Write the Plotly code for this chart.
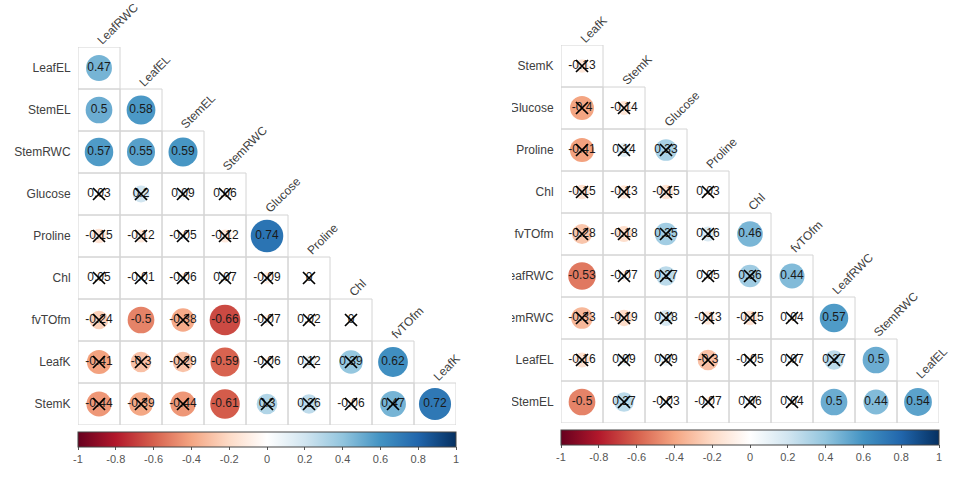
import numpy as np
import plotly.graph_objects as go

# left panel: lower triangle of correlations (row i has i+1 values)
left_vars = ["LeafRWC", "LeafEL", "StemEL", "StemRWC", "Glucose",
             "Proline", "Chl", "fvTOfm", "LeafK", "StemK"]
left_r = [
    [0.47],
    [0.5, 0.58],
    [0.57, 0.55, 0.59],
    [0.03, 0.2, 0.09, 0.06],
    [-0.15, -0.12, -0.05, -0.12, 0.74],
    [0.05, -0.01, -0.06, 0.07, -0.09, 0],
    [-0.24, -0.5, -0.38, -0.66, -0.07, 0.02, 0],
    [-0.41, -0.3, -0.29, -0.59, -0.06, 0.12, 0.39, 0.62],
    [-0.44, -0.39, -0.44, -0.61, 0.3, 0.26, -0.06, 0.47, 0.72],
]
# 1 = not significant (crossed out)
left_ns = [
    [0],
    [0, 0],
    [0, 0, 0],
    [1, 1, 1, 1],
    [1, 1, 1, 1, 0],
    [1, 1, 1, 1, 1, 1],
    [1, 0, 1, 0, 1, 1, 1],
    [1, 1, 1, 0, 1, 1, 1, 0],
    [1, 1, 1, 0, 1, 1, 1, 1, 0],
]

right_vars = ["LeafK", "StemK", "Glucose", "Proline", "Chl",
              "fvTOfm", "LeafRWC", "StemRWC", "LeafEL", "StemEL"]
right_r = [
    [-0.13],
    [-0.4, -0.14],
    [-0.41, 0.14, 0.33],
    [-0.15, -0.13, -0.15, 0.03],
    [-0.28, -0.18, 0.35, 0.16, 0.46],
    [-0.53, -0.07, 0.27, 0.05, 0.36, 0.44],
    [-0.33, -0.19, 0.18, -0.13, -0.15, 0.04, 0.57],
    [-0.16, 0.09, 0.09, -0.3, -0.05, 0.07, 0.27, 0.5],
    [-0.5, 0.27, -0.03, -0.07, 0.06, 0.04, 0.5, 0.44, 0.54],
]
right_ns = [
    [1],
    [1, 1],
    [1, 1, 1],
    [1, 1, 1, 1],
    [1, 1, 1, 1, 0],
    [0, 1, 1, 1, 1, 0],
    [1, 1, 1, 1, 1, 1, 0],
    [1, 1, 1, 1, 1, 1, 1, 0],
    [0, 1, 1, 1, 1, 1, 0, 0, 0],
]

tick_vals = [-1, -0.8, -0.6, -0.4, -0.2, 0, 0.2, 0.4, 0.6, 0.8, 1]
tick_text = ["-1", "-0.8", "-0.6", "-0.4", "-0.2", "0", "0.2", "0.4", "0.6", "0.8", "1"]

# corrplot RdBu palette
rdbu = ["#67001F", "#B2182B", "#D6604D", "#F4A582", "#FDDBC7", "#FFFFFF",
        "#D1E5F0", "#92C5DE", "#4393C3", "#2166AC", "#053061"]
cscale = [[i / 10, c] for i, c in enumerate(rdbu)]

W, H = 975, 484
FONT = "Liberation Sans, Arial, sans-serif"
LABEL_COL = "#404040"
CELL = 42.0

fig = go.Figure()
shapes = []
annotations = []


def add_panel(vars_, r, ns, n, px_left, px_top, cax):
    xa = "x" if n == 1 else "x%d" % n
    ya = "y" if n == 1 else "y%d" % n
    rows = vars_[1:]
    xs, ys, vals, txt, cx, cy = [], [], [], [], [], []
    for i, row in enumerate(r):
        for j, v in enumerate(row):
            xs.append(j)
            ys.append(i)
            vals.append(v)
            txt.append("%g" % v)
            if ns[i][j]:
                cx.append(j)
                cy.append(i)
            shapes.append(dict(type="rect", xref=xa, yref=ya,
                               x0=j - 0.5, x1=j + 0.5, y0=i - 0.5, y1=i + 0.5,
                               line=dict(color="#d4d4d4", width=1), layer="below"))
    vals = np.array(vals)
    fig.add_trace(go.Scatter(
        x=xs, y=ys, xaxis=xa, yaxis=ya, mode="markers+text",
        text=txt, textposition="middle center",
        textfont=dict(family=FONT, size=12, color="#1a1a1a"),
        marker=dict(size=0.9 * CELL * np.sqrt(np.abs(vals)), color=vals,
                    coloraxis=cax, line=dict(width=0), opacity=1),
        cliponaxis=False, hoverinfo="skip", showlegend=False))
    fig.add_trace(go.Scatter(
        x=cx, y=cy, xaxis=xa, yaxis=ya, mode="markers",
        marker=dict(symbol="x-thin", size=12, line=dict(width=1.7, color="black")),
        cliponaxis=False, hoverinfo="skip", showlegend=False))
    # column labels along the diagonal
    for j in range(len(rows)):
        annotations.append(dict(
            x=j, y=j - 0.5, xref=xa, yref=ya, text=vars_[j], showarrow=False,
            textangle=-45, xanchor="left", yanchor="bottom", xshift=-6, yshift=-2,
            borderpad=0, font=dict(family=FONT, size=12, color=LABEL_COL)))
    x0 = px_left / W
    x1 = (px_left + 9 * CELL) / W
    y1 = 1 - px_top / H
    y0 = 1 - (px_top + 9 * CELL) / H
    fig.update_layout(**{
        ("xaxis" if n == 1 else "xaxis%d" % n): dict(
            domain=[x0, x1], range=[-0.5, 8.5], showgrid=False, zeroline=False,
            showticklabels=False, showline=False, anchor=ya, automargin=False),
        ("yaxis" if n == 1 else "yaxis%d" % n): dict(
            domain=[y0, y1], range=[8.5, -0.5], showgrid=False, zeroline=False,
            tickvals=list(range(len(rows))), ticktext=rows, ticks="outside",
            ticklen=4, tickcolor="rgba(0,0,0,0)", showline=False, anchor=xa,
            automargin=False,
            tickfont=dict(family=FONT, size=12, color=LABEL_COL)),
        cax: dict(
            colorscale=cscale, cmin=-1, cmax=1,
            colorbar=dict(
                orientation="h", lenmode="pixels", len=9 * CELL,
                thicknessmode="pixels", thickness=15,
                x=(px_left + 4.5 * CELL) / W, xanchor="center",
                y=1 - (px_top + 9 * CELL + 7) / H, yanchor="top",
                xpad=0, ypad=0, outlinewidth=1, outlinecolor="#444444",
                tickvals=tick_vals, ticktext=tick_text, ticks="outside",
                ticklen=3, tickcolor="#555555",
                tickfont=dict(family=FONT, size=11, color="#555555"))),
    })


add_panel(left_vars, left_r, left_ns, 1, 78, 47, "coloraxis")
add_panel(right_vars, right_r, right_ns, 2, 561, 45, "coloraxis2")

# right panel row labels are cut at its left edge
shapes.append(dict(type="rect", xref="paper", yref="paper",
                   x0=470 / W, x1=512 / W,
                   y0=0, y1=1, fillcolor="white", line=dict(width=0), layer="above"))

fig.update_layout(
    width=W, height=H, margin=dict(l=0, r=0, t=0, b=0, autoexpand=False),
    paper_bgcolor="white", plot_bgcolor="white",
    shapes=shapes, annotations=annotations,
)

# drop the browser's default body margin so the figure fills the window
fig.write_html("out.html", config={"displayModeBar": False},
               post_script="document.body.style.margin = '0';")
